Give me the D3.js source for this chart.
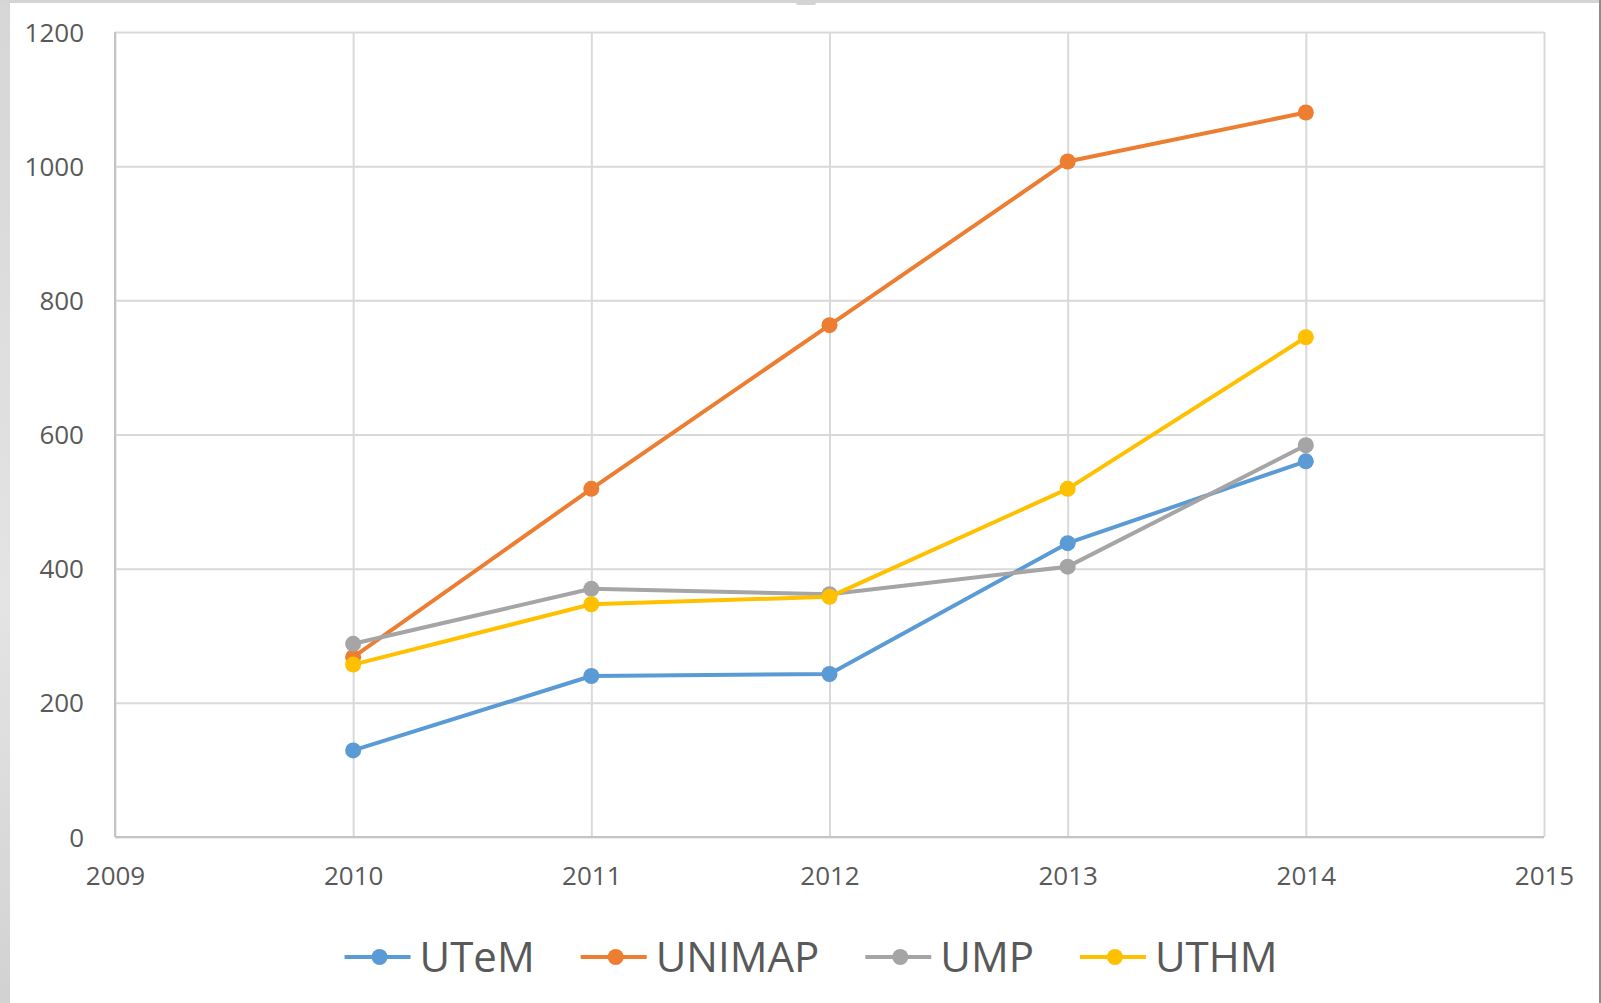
<!DOCTYPE html>
<html>
<head>
<meta charset="utf-8">
<script src="https://cdn.jsdelivr.net/npm/d3@7"></script>
<style>
  html, body { margin: 0; padding: 0; background: #fff; }
  svg { display: block; }
</style>
</head>
<body>
<div id="chart"></div>
<script>
const YEARS = [2010, 2011, 2012, 2013, 2014];
const X_TICKS = [2009, 2010, 2011, 2012, 2013, 2014, 2015];
const Y_TICKS = [0, 200, 400, 600, 800, 1000, 1200];

const SERIES_NAMES = ["UTeM", "UNIMAP", "UMP", "UTHM"];
const UTEM = [129, 240, 243, 438, 560];
const UNIMAP = [268, 519, 763, 1007, 1080];
const UMP = [288, 370, 362, 403, 584];
const UTHM = [257, 347, 358, 519, 745];

const COLORS = ["#5b9bd5", "#ed7d31", "#a5a5a5", "#ffc000"];

class LineChart {
  constructor(containerId) {
    this.width = 1601;
    this.height = 1003;
    this.plot = { left: 115, right: 1544, top: 32, bottom: 837 };
    this.svg = d3
      .select(containerId)
      .append("svg")
      .attr("width", this.width)
      .attr("height", this.height);
    this.series = SERIES_NAMES.map((name, i) => ({
      name: name,
      color: COLORS[i],
      values: [UTEM, UNIMAP, UMP, UTHM][i],
    }));
  }

  buildFrame() {
    // screenshot edges
    this.svg.append("rect").attr("width", this.width).attr("height", this.height).attr("fill", "#fff");
    const grad = this.svg.append("defs").append("linearGradient")
      .attr("id", "edge").attr("x1", 0).attr("x2", 0).attr("y1", 0).attr("y2", 1);
    grad.append("stop").attr("offset", "0%").attr("stop-color", "#d6d6d6");
    grad.append("stop").attr("offset", "60%").attr("stop-color", "#e4e4e4");
    grad.append("stop").attr("offset", "100%").attr("stop-color", "#d2d2d2");
    this.svg.append("rect").attr("x", 0).attr("y", 0).attr("width", 10).attr("height", this.height).attr("fill", "url(#edge)");
    this.svg.append("rect").attr("x", 0).attr("y", 0).attr("width", this.width).attr("height", 3).attr("fill", "#d4d4d4");
    this.svg.append("rect").attr("x", 796).attr("y", 0).attr("width", 20).attr("height", 5).attr("rx", 2).attr("fill", "#d4d4d4");
    this.svg.append("rect").attr("x", this.width - 2).attr("y", 0).attr("width", 2).attr("height", this.height).attr("fill", "#8c8c8c");
    return this;
  }

  buildScales() {
    this.x = d3.scaleLinear().domain([2009, 2015]).range([this.plot.left, this.plot.right]);
    this.y = d3.scaleLinear().domain([0, 1200]).range([this.plot.bottom, this.plot.top]);
    return this;
  }

  buildAxes() {
    const p = this.plot;
    const font = "'Open Sans', 'Noto Sans', sans-serif";

    const gy = this.svg.append("g")
      .attr("transform", `translate(${p.left},0)`)
      .call(d3.axisLeft(this.y).tickValues(Y_TICKS).tickSize(-(p.right - p.left)).tickFormat(d3.format("d")));
    gy.select(".domain").remove();
    gy.selectAll(".tick line").attr("stroke", "#d9d9d9").attr("stroke-width", 2);
    gy.selectAll(".tick text")
      .attr("x", -31).attr("dy", "0.35em")
      .attr("fill", "#595959").attr("font-family", font).attr("font-size", 26);

    const gx = this.svg.append("g")
      .attr("transform", `translate(0,${p.bottom})`)
      .call(d3.axisBottom(this.x).tickValues(X_TICKS).tickSize(-(p.bottom - p.top)).tickFormat(d3.format("d")));
    gx.select(".domain").remove();
    gx.selectAll(".tick line").attr("stroke", "#d9d9d9").attr("stroke-width", 2);
    gx.selectAll(".tick text")
      .attr("y", 39).attr("dy", "0.35em")
      .attr("fill", "#595959").attr("font-family", font).attr("font-size", 26);

    // left and bottom axis lines a bit darker
    this.svg.append("line")
      .attr("x1", p.left).attr("x2", p.left).attr("y1", p.top).attr("y2", p.bottom)
      .attr("stroke", "#c4c4c4").attr("stroke-width", 2);
    this.svg.append("line")
      .attr("x1", p.left).attr("x2", p.right).attr("y1", p.bottom).attr("y2", p.bottom)
      .attr("stroke", "#c4c4c4").attr("stroke-width", 2);
    return this;
  }

  buildLines() {
    const line = d3.line().x((d, i) => this.x(YEARS[i])).y((d) => this.y(d));
    this.series.forEach((s) => {
      const g = this.svg.append("g");
      g.append("path")
        .attr("d", line(s.values))
        .attr("fill", "none")
        .attr("stroke", s.color)
        .attr("stroke-width", 4)
        .attr("stroke-linejoin", "round");
      g.selectAll("circle")
        .data(s.values)
        .enter()
        .append("circle")
        .attr("cx", (d, i) => this.x(YEARS[i]))
        .attr("cy", (d) => this.y(d))
        .attr("r", 8)
        .attr("fill", s.color);
    });
    return this;
  }

  buildLegend() {
    const font = "'Open Sans', 'Noto Sans', sans-serif";
    const legend = this.svg.append("g");
    const cy = 957;
    let xPos = 0;
    this.series.forEach((s) => {
      const item = legend.append("g").attr("transform", `translate(${xPos},0)`);
      item.append("line")
        .attr("x1", 0).attr("x2", 66).attr("y1", cy).attr("y2", cy)
        .attr("stroke", s.color).attr("stroke-width", 4);
      item.append("circle").attr("cx", 35).attr("cy", cy).attr("r", 8).attr("fill", s.color);
      const t = item.append("text")
        .attr("x", 75).attr("y", cy).attr("dy", "0.36em")
        .attr("fill", "#595959").attr("font-family", font).attr("font-size", 42)
        .text(s.name);
      xPos += 75 + t.node().getComputedTextLength() + 46;
    });
    const total = xPos - 46;
    legend.attr("transform", `translate(${811 - total / 2},0)`);
    return this;
  }
}

new LineChart("#chart").buildFrame().buildScales().buildAxes().buildLines().buildLegend();
</script>
</body>
</html>
